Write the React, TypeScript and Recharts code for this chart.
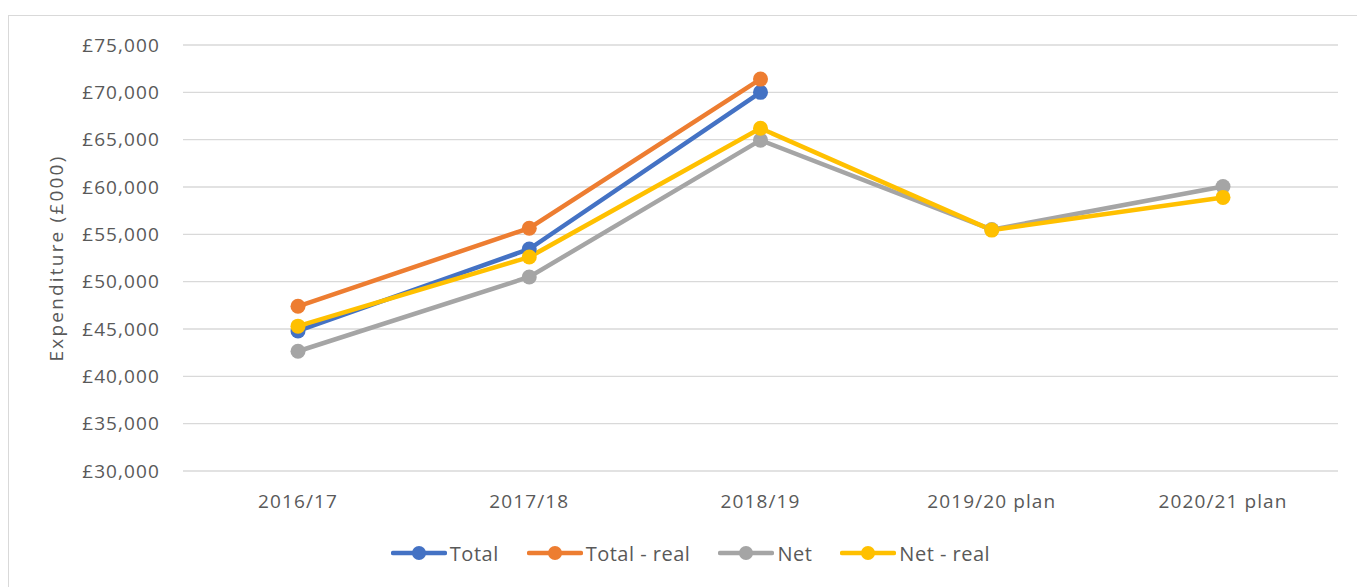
import { CartesianGrid, Legend, Line, LineChart, XAxis, YAxis } from "recharts";

const years = ["2016/17", "2017/18", "2018/19", "2019/20 plan", "2020/21 plan"];
const total = [44800, 53450, 70000, null, null];
const totalReal = [47400, 55650, 71400, null, null];
const net = [42650, 50500, 64950, 55500, 60050];
const netReal = [45300, 52600, 66200, 55450, 58900];
const yTicks = [30000, 35000, 40000, 45000, 50000, 55000, 60000, 65000, 70000, 75000];

const series = [
  { key: "total", name: "Total", color: "#4472C4" },
  { key: "totalReal", name: "Total - real", color: "#ED7D31" },
  { key: "net", name: "Net", color: "#A5A5A5" },
  { key: "netReal", name: "Net - real", color: "#FFC000" },
];

const data = years.map((year, i) => ({
  year,
  total: total[i],
  totalReal: totalReal[i],
  net: net[i],
  netReal: netReal[i],
}));

const textColor = "#595959";
const font = "'Open Sans', sans-serif";

function LegendRow() {
  return (
    <div
      style={{
        display: "flex",
        justifyContent: "center",
        alignItems: "center",
        height: 30,
        paddingLeft: 34,
        fontFamily: font,
        fontSize: 20,
        letterSpacing: 0.5,
        color: textColor,
      }}
    >
      {series.map((s, i) => (
        <div
          key={s.key}
          style={{ display: "flex", alignItems: "center", marginLeft: i === 0 ? 0 : 28 }}
        >
          <svg width={56} height={16} style={{ marginRight: 3 }}>
            <line x1={2} y1={8} x2={54} y2={8} stroke={s.color} strokeWidth={4.5} strokeLinecap="round" />
            <circle cx={28} cy={8} r={7} fill={s.color} />
          </svg>
          <span>{s.name}</span>
        </div>
      ))}
    </div>
  );
}

export default function App() {
  return (
    <div
      style={{
        position: "fixed",
        left: 8,
        top: 15,
        width: 1360,
        height: 600,
        border: "1px solid #D9D9D9",
        background: "#fff",
      }}
    >
      <LineChart
        width={1348}
        height={571}
        data={data}
        margin={{ top: 29, right: 19, left: 0, bottom: 19 }}
        style={{ fontFamily: font }}
      >
        <CartesianGrid vertical={false} stroke="#D9D9D9" strokeWidth={1.3} />
        <XAxis
          dataKey="year"
          height={67}
          padding={{ left: 115, right: 115 }}
          axisLine={false}
          tickLine={false}
          tickMargin={18}
          tick={{ fill: textColor, fontSize: 19, letterSpacing: 1.1 }}
        />
        <YAxis
          width={174}
          domain={[30000, 75000]}
          ticks={yTicks}
          axisLine={false}
          tickLine={false}
          tickMargin={17}
          tick={{ fill: textColor, fontSize: 19, letterSpacing: 1.1 }}
          tickFormatter={(v: number) => `£${v.toLocaleString("en-GB")}`}
          label={{
            value: "Expenditure (£000)",
            angle: -90,
            position: "insideLeft",
            offset: 47,
            fill: textColor,
            fontSize: 19,
            letterSpacing: 2.2,
            style: { textAnchor: "middle" },
          }}
        />
        <Legend verticalAlign="bottom" height={30} content={() => <LegendRow />} />
        {series.map((s) => (
          <Line
            key={s.key}
            type="linear"
            dataKey={s.key}
            name={s.name}
            stroke={s.color}
            strokeWidth={4.5}
            dot={{ r: 7.5, fill: s.color, stroke: s.color, strokeWidth: 0 }}
            activeDot={false}
            isAnimationActive={false}
          />
        ))}
      </LineChart>
    </div>
  );
}
